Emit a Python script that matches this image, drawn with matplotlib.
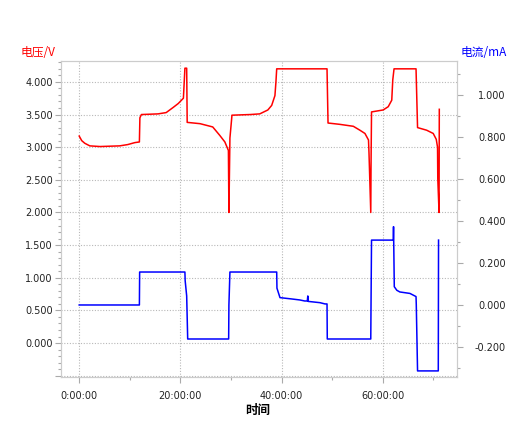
import numpy as np
import matplotlib
matplotlib.use("Agg")
from matplotlib import pyplot as plt
from matplotlib.ticker import MultipleLocator, FormatStrFormatter, FuncFormatter

# time in hours, voltage in V
volt_t = [0.0, 0.5, 1.1, 2.1, 4.1, 8.0, 9.6, 11.0, 11.9, 12.0, 12.3, 15.6, 17.2, 18.6,
          19.6, 20.6, 20.7, 20.9, 21.25, 21.35, 23.9, 26.4, 27.8, 28.8, 29.5, 29.6,
          29.8, 30.15, 30.2, 33.8, 35.7, 37.3, 38.06, 38.7, 38.9, 39.05, 49.0, 49.2,
          51.5, 54.2, 55.5, 56.5, 57.2, 57.3, 57.65, 57.7, 57.8, 60.1, 61.1, 61.8,
          62.0, 62.25, 66.6, 66.9, 68.7, 70.0, 70.6, 70.85, 70.9, 71.15, 71.2]
volt_v = [3.17, 3.10, 3.06, 3.02, 3.01, 3.02, 3.04, 3.07, 3.08, 3.45, 3.50, 3.51, 3.53, 3.61,
          3.67, 3.75, 3.90, 4.21, 4.21, 3.38, 3.36, 3.31, 3.18, 3.08, 2.95, 2.00,
          3.14, 3.44, 3.49, 3.50, 3.51, 3.57, 3.64, 3.79, 4.00, 4.20, 4.20, 3.37,
          3.35, 3.32, 3.26, 3.21, 3.11, 2.91, 2.00, 2.70, 3.54, 3.57, 3.62, 3.72,
          4.03, 4.20, 4.20, 3.30, 3.26, 3.21, 3.12, 3.00, 2.52, 2.00, 3.58]

# time in hours, current in mA
curr_t = [0.0, 11.9, 11.95, 20.9, 20.95, 21.25, 21.45, 29.55, 29.6, 29.8, 39.05, 39.1,
          39.7, 41.9, 43.6, 44.6, 45.1, 45.2, 45.3, 47.6, 48.6, 49.0, 49.05, 57.65, 57.7,
          57.8, 62.1, 62.15, 62.3, 62.8, 63.4, 65.4, 66.2, 66.6, 66.65, 66.9, 71.0, 71.05]
curr_i = [0.000, 0.000, 0.157, 0.157, 0.116, 0.043, -0.162, -0.162, 0.000, 0.157, 0.157, 0.080,
          0.035, 0.029, 0.024, 0.019, 0.019, 0.043, 0.017, 0.011, 0.005, 0.005, -0.162, -0.162, 0.000,
          0.309, 0.309, 0.373, 0.087, 0.070, 0.062, 0.055, 0.045, 0.040, 0.000, -0.314, -0.314, 0.309]

W, H = 519, 429
fig = plt.figure(figsize=(W / 100, H / 100), dpi=100)
ax = fig.add_axes([61 / W, 1 - 377 / H, (457 - 61) / W, (377 - 61) / H])
ax2 = ax.twinx()

ax.plot(volt_t, volt_v, color="#ff0000", lw=1.1)
ax2.plot(curr_t, curr_i, color="#0000ff", lw=1.1)

ax.set_xlim(-3.6, 74.7)
ax.set_ylim(-0.52, 4.32)
ax2.set_ylim(-0.343, 1.162)

def hms(x, pos):
    return "%d:00:00" % round(x)

def volt_fmt(y, pos):
    # the left scale shows no label below zero
    return "" if y < -0.01 else "%.3f" % y

ax.xaxis.set_major_locator(MultipleLocator(20))
ax.xaxis.set_minor_locator(MultipleLocator(10))
ax.xaxis.set_major_formatter(FuncFormatter(hms))
ax.yaxis.set_major_locator(MultipleLocator(0.5))
ax.yaxis.set_minor_locator(MultipleLocator(0.1))
ax.yaxis.set_major_formatter(FuncFormatter(volt_fmt))
ax2.yaxis.set_major_locator(MultipleLocator(0.2))
ax2.yaxis.set_minor_locator(MultipleLocator(0.1))
ax2.yaxis.set_major_formatter(FormatStrFormatter("%.3f"))

ax.grid(True, which="major", color="#b8b8b8", linestyle=(0, (1, 1.5)), lw=0.8)

for a in (ax, ax2):
    for s in a.spines.values():
        s.set_color("#cccccc")
    a.tick_params(which="major", length=4, width=0.8, color="#aaaaaa", labelsize=7, labelcolor="#222222", pad=2)
    a.tick_params(which="minor", length=2.2, width=0.8, color="#aaaaaa")
ax.tick_params(axis="x", pad=6)
ax2.tick_params(axis="y", which="major", pad=31)
for lab in ax2.get_yticklabels():
    lab.set_horizontalalignment("right")

cjk = ["Noto Sans CJK SC", "DejaVu Sans"]
fig.text(38 / W, 1 - 52 / H, "电压/V", color="#ff0000", fontsize=8.5, family=cjk, ha="center", va="center")
fig.text(484 / W, 1 - 52 / H, "电流/mA", color="#0000ff", fontsize=8.5, family=cjk, ha="center", va="center")
fig.text(258 / W, 1 - 410 / H, "时间", color="#000000", fontsize=9, family=cjk, weight="bold", ha="center", va="center")

fig.savefig("out.png", dpi=100)
